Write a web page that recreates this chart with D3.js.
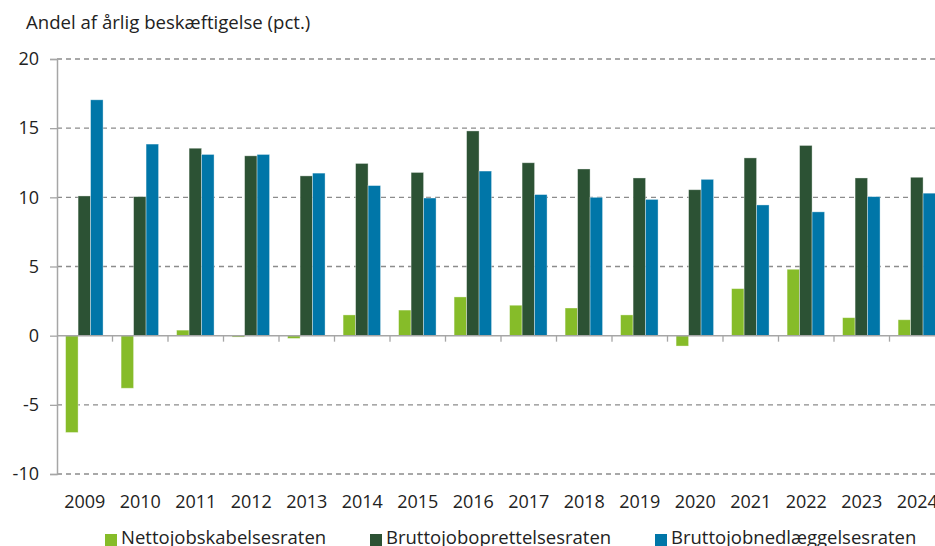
<!DOCTYPE html>
<html>
<head>
<meta charset="utf-8">
<script src="https://cdn.jsdelivr.net/npm/d3@7"></script>
<style>
  body { margin: 0; background: #fff; }
  svg { display: block; font-family: "Open Sans", sans-serif; }
</style>
</head>
<body>
<div id="chart"></div>
<script>
var years = ["2009", "2010", "2011", "2012", "2013", "2014", "2015", "2016",
  "2017", "2018", "2019", "2020", "2021", "2022", "2023", "2024"]

var seriesNames = ["Nettojobskabelsesraten", "Bruttojoboprettelsesraten", "Bruttojobnedlæggelsesraten"]

var netto = [-7.0, -3.8, 0.4, -0.1, -0.2, 1.5, 1.85, 2.8, 2.2, 2.0, 1.5, -0.75, 3.4, 4.8, 1.3, 1.15]
var brutOpr = [10.1, 10.05, 13.55, 13.0, 11.55, 12.45, 11.8, 14.8, 12.5, 12.05, 11.4, 10.55, 12.85, 13.75, 11.4, 11.45]
var brutNed = [17.05, 13.85, 13.1, 13.1, 11.75, 10.85, 9.95, 11.9, 10.2, 10.0, 9.85, 11.3, 9.45, 8.95, 10.05, 10.3]

var yTicks = [-10, -5, 0, 5, 10, 15, 20]
var colors = ["#86bc29", "#2c5234", "#0076a8"]

var W = 935, H = 546
var m = { left: 57, right: 945, top: 59, bottom: 474 }

var svg = d3.select("#chart").append("svg")
  .attr("width", W)
  .attr("height", H)

var x0 = d3.scaleBand().domain(years).range([m.left, m.right]).padding(0)
var bw = x0.bandwidth()
var x1 = d3.scaleBand().domain(seriesNames).range([bw * 0.155, bw * 0.83]).padding(0)
var y = d3.scaleLinear().domain([-10, 20]).range([m.bottom, m.top])

// title
svg.append("text")
  .attr("x", 26).attr("y", 29)
  .attr("font-size", 18.6)
  .attr("fill", "#222")
  .text("Andel af årlig beskæftigelse (pct.)")

// dashed grid
svg.append("g").selectAll("line")
  .data(yTicks.filter(function(d) { return d !== 0 }))
  .enter().append("line")
  .attr("x1", m.left).attr("x2", W)
  .attr("y1", function(d) { return y(d) })
  .attr("y2", function(d) { return y(d) })
  .attr("stroke", "#8c8c8c")
  .attr("stroke-width", 1.3)
  .attr("stroke-dasharray", "5,4")

// bars
var rows = years.map(function(yr, i) {
  return { year: yr, vals: [netto[i], brutOpr[i], brutNed[i]] }
})

var groups = svg.append("g").selectAll("g")
  .data(rows)
  .enter().append("g")
  .attr("transform", function(d) { return "translate(" + x0(d.year) + ",0)" })

groups.selectAll("rect")
  .data(function(d) { return d.vals.map(function(v, j) { return { key: seriesNames[j], v: v, j: j } }) })
  .enter().append("rect")
  .attr("x", function(d) { return x1(d.key) })
  .attr("width", x1.bandwidth())
  .attr("y", function(d) { return y(Math.max(0, d.v)) })
  .attr("height", function(d) { return Math.abs(y(d.v) - y(0)) })
  .attr("fill", function(d) { return colors[d.j] })
  .attr("stroke", "#fff")
  .attr("stroke-opacity", 0.45)
  .attr("stroke-width", 0.8)

// y axis (plain hyphen for negatives, like the original)
var yAxis = d3.axisLeft(y).tickValues(yTicks).tickSize(7).tickPadding(11)
  .tickFormat(function(d) { return String(d) })
svg.append("g")
  .attr("transform", "translate(" + m.left + ",0)")
  .call(yAxis)
  .call(function(g) {
    g.select(".domain").attr("stroke", "#a6a6a6").attr("stroke-width", 1.5)
    g.selectAll(".tick line").attr("stroke", "#a6a6a6").attr("stroke-width", 1.3)
    g.selectAll("text").attr("font-size", 18).attr("fill", "#222").attr("font-family", "Open Sans")
  })

// x axis along zero, ticks between groups
var zeroY = y(0)
svg.append("line")
  .attr("x1", m.left).attr("x2", W)
  .attr("y1", zeroY).attr("y2", zeroY)
  .attr("stroke", "#a6a6a6").attr("stroke-width", 1.5)

svg.append("g").selectAll("line")
  .data(years.slice(1))
  .enter().append("line")
  .attr("x1", function(d) { return x0(d) })
  .attr("x2", function(d) { return x0(d) })
  .attr("y1", zeroY).attr("y2", zeroY + 6)
  .attr("stroke", "#a6a6a6").attr("stroke-width", 1.3)

svg.append("g").selectAll("text")
  .data(years)
  .enter().append("text")
  .attr("x", function(d) { return x0(d) + bw / 2 })
  .attr("y", 508)
  .attr("text-anchor", "middle")
  .attr("font-size", 18)
  .attr("fill", "#222")
  .text(function(d) { return d })

// legend
var legendX = [105, 370, 655]
var legend = svg.append("g").selectAll("g")
  .data(seriesNames)
  .enter().append("g")
  .attr("transform", function(d, i) { return "translate(" + legendX[i] + ",534)" })

legend.append("rect")
  .attr("width", 12).attr("height", 12)
  .attr("fill", function(d, i) { return colors[i] })

legend.append("text")
  .attr("x", 16).attr("y", 10)
  .attr("font-size", 18.5)
  .attr("fill", "#222")
  .text(function(d) { return d })
</script>
</body>
</html>
